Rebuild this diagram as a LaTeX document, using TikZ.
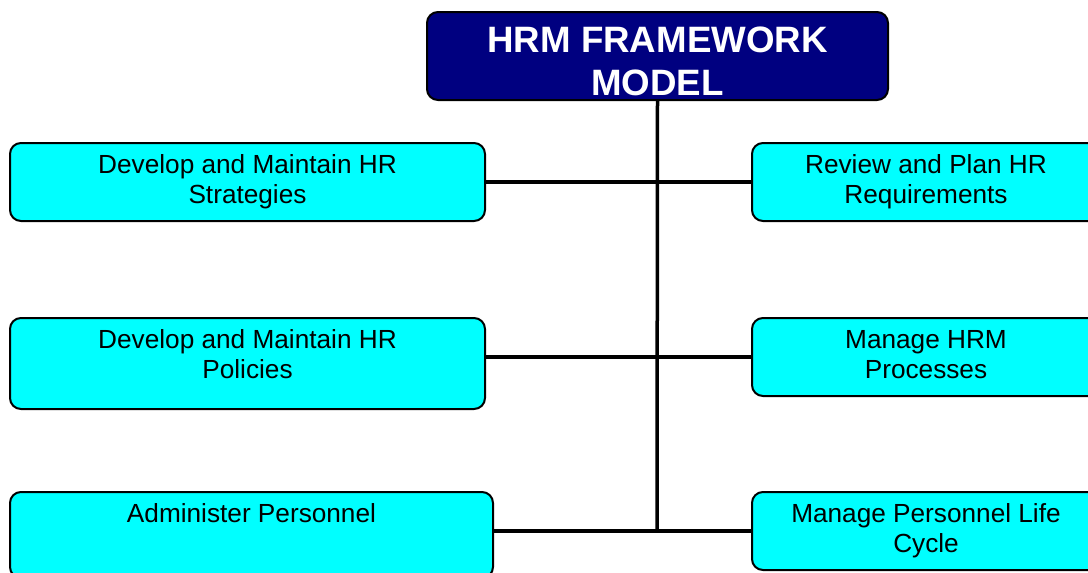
\documentclass[tikz,border=0pt]{standalone}
\usepackage{fontspec}
\setmainfont{Liberation Sans}
\definecolor{navy}{HTML}{000080}
\definecolor{aqua}{HTML}{00FFFF}
\begin{document}
\begin{tikzpicture}[x=1pt,y=-1pt,
  box/.style={draw=black,line width=2pt,rounded corners=11pt,fill=aqua,inner sep=0pt},
  titlebox/.style={box,fill=navy},
  lbl/.style={anchor=base,align=center,inner sep=0pt,font=\fontsize{26.2}{30}\selectfont},
  titlelbl/.style={anchor=base,align=center,inner sep=0pt,text=white,font=\fontsize{36.7}{43}\selectfont\bfseries},
  conn/.style={line width=3.5pt}]
\useasboundingbox (0,0) rectangle (1088,573);
\node[titlebox,minimum width=461pt,minimum height=88pt] (top) at (657.5,56) {};
\node[box,minimum width=475pt,minimum height=78pt] (L1) at (247.5,182) {};
\node[box,minimum width=475pt,minimum height=91pt] (L2) at (247.5,363.5) {};
\node[box,minimum width=483pt,minimum height=86pt] (L3) at (251.5,535) {};
\node[box,minimum width=348pt,minimum height=78pt] (R1) at (926,182) {};
\node[box,minimum width=348pt,minimum height=78pt] (R2) at (926,357) {};
\node[box,minimum width=348pt,minimum height=78pt] (R3) at (926,531) {};
\coordinate (bot) at (657,531);
\draw[conn] (top.south) -- (bot);
\draw[conn] (L1.east) -- (R1.west);
\draw[conn] (R2.west) -- (R2.west -| L2.east);
\draw[conn] (R3.west) -- (R3.west -| L3.east);
\node[titlelbl] (ttop) at (657.5,95) {HRM FRAMEWORK\\MODEL};
\node[lbl] (tL1) at (247.5,203) {Develop and Maintain HR\\Strategies};
\node[lbl] (tL2) at (247.5,378) {Develop and Maintain HR\\Policies};
\node[lbl] (tL3) at (251.5,522) {Administer Personnel};
\node[lbl] (tR1) at (926,203) {Review and Plan HR\\Requirements};
\node[lbl] (tR2) at (926,378) {Manage HRM\\Processes};
\node[lbl] (tR3) at (926,552) {Manage Personnel Life\\Cycle};
\end{tikzpicture}
\end{document}
